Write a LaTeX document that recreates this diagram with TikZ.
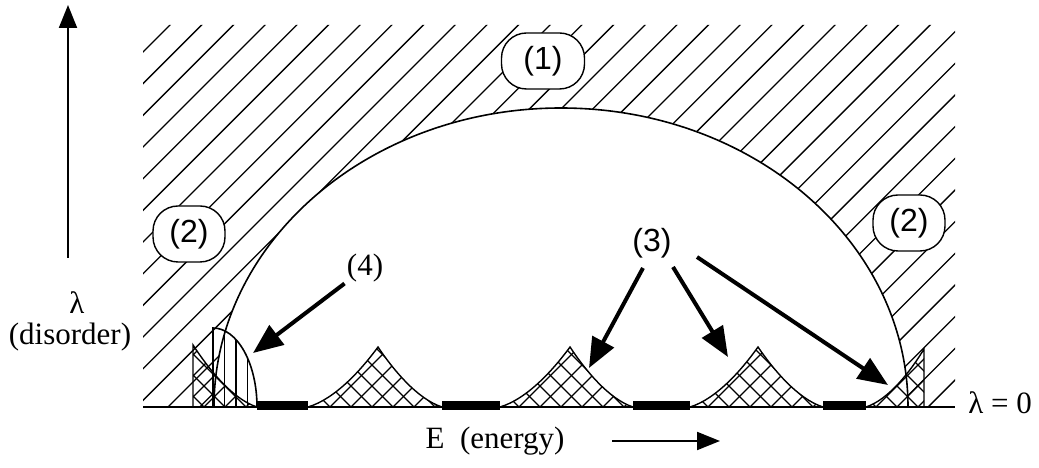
\documentclass[tikz,border=0pt]{standalone}
\usepackage{fontspec}
\setmainfont{Liberation Serif}
\setsansfont{Liberation Sans}
\usetikzlibrary{arrows.meta}

% one band tail: foot, peak, foot
\newcommand{\cusppath}[3]{(#1,0) .. controls ({#1+0.39*(#2-#1)},8) and ({#1+0.77*(#2-#1)},38) .. (#2,60)
  .. controls ({#3-0.77*(#3-#2)},38) and ({#3-0.39*(#3-#2)},8) .. (#3,0) -- cycle}
\newcommand{\tailpaths}{(193,0) -- (193,62) .. controls (208,39) and (232,8) .. (257,0) -- cycle
  (866,0) .. controls (889,7.5) and (911,36.5) .. (924,58) -- (924,0) -- cycle
  \cusppath{308}{378}{442} \cusppath{500}{570}{633} \cusppath{690}{758}{823}}

\begin{document}
\begin{tikzpicture}[x=1pt, y=1pt, node distance=34pt, thick]
  \tikzstyle{tagbox} = [rectangle, draw, fill=white, rounded corners=25pt, line width=1.4pt, minimum width=72pt, minimum height=56pt, inner sep=0pt, font=\sffamily\fontsize{32}{32}\selectfont]
  \tikzstyle{tag} = [inner sep=2pt, font=\fontsize{31}{31}\selectfont]
  \tikzstyle{sanstag} = [inner sep=2pt, font=\sffamily\fontsize{32}{32}\selectfont]
  \tikzstyle{hatchline} = [line width=1.3pt]
  \tikzstyle{pointer} = [line width=4pt, -{Triangle[length=30pt, width=24pt]}]
  \tikzstyle{axis} = [line width=2pt, -{Triangle[length=23pt, width=18pt]}]

  \useasboundingbox (0,-61) rectangle (1039,407);

  % (1),(2): everything outside the dome
  \begin{scope}[even odd rule]
    \clip (143,0) rectangle (955,382)
      (214,0) arc[start angle=180, end angle=0, x radius=347pt, y radius=299pt] -- cycle;
    \foreach \k in {0,...,37}
      \draw[hatchline] ({-212+31.67*\k},0) -- ++(400,400);
  \end{scope}
  \draw[line width=1.6pt] (214,0) arc[start angle=180, end angle=0, x radius=347pt, y radius=299pt];

  % (3): band tails
  \begin{scope}
    \clip \tailpaths;
    \foreach \k in {0,...,42} {
      \draw[hatchline] ({120+21*\k},0) -- ++(70,70);
      \draw[hatchline] ({120+21*\k},0) -- ++(-70,70);
    }
  \end{scope}
  \draw[line width=1.4pt] \tailpaths;

  % (4)
  \begin{scope}
    \clip (213,0) -- (213,79) arc[start angle=90, end angle=0, x radius=44pt, y radius=79pt] -- cycle;
    \foreach \x in {224.5,236,247.5}
      \draw[line width=1.6pt] (\x,0) -- (\x,80);
  \end{scope}
  \draw[line width=1.6pt] (213,0) -- (213,79) arc[start angle=90, end angle=0, x radius=44pt, y radius=79pt];

  % bands
  \foreach \a/\b in {257/308, 442/500, 633/690, 823/866}
    \fill (\a,-3) rectangle (\b,6);
  \draw[line width=2.5pt] (143,0) -- (955,0);

  \node[tagbox, minimum width=83pt] (r1) at (543,346) {(1)};
  \node[tagbox] (r2l) at (189,173) {(2)};
  \node[tagbox] (r2r) at (909,184) {(2)};
  \node[sanstag] (r3) at (652,164) {(3)};
  \node[tag] (r4) at (365,139) {(4)};

  \coordinate (t4) at (253,54);
  \draw[pointer] (r4) -- (t4);

  \coordinate (s3a) at (643,139);
  \coordinate (s3b) at (673,140);
  \coordinate (s3c) at (697,150);
  \coordinate (t3a) at (589,39);
  \coordinate (t3b) at (728,50);
  \coordinate (t3c) at (888,22);
  \draw[pointer] (s3a) -- (t3a);
  \draw[pointer] (s3b) -- (t3b);
  \draw[pointer] (s3c) -- (t3c);

  % axes
  \node[tag] (lam) at (77,104) {λ};
  \node[tag, below of=lam, xshift=-7pt] (dis) {(disorder)};
  \coordinate (lamfoot) at (68,149);
  \coordinate (lamtop) at (68,402);
  \draw[axis] (lamfoot) -- (lamtop);

  \node[tag] (zero) at (1000,4) {λ = 0};
  \node[tag] (energy) at (495,-34) {E\ \ (energy)};
  \coordinate (efoot) at (612,-34);
  \coordinate (etip) at (720,-34);
  \draw[axis] (efoot) -- (etip);
\end{tikzpicture}
\end{document}
